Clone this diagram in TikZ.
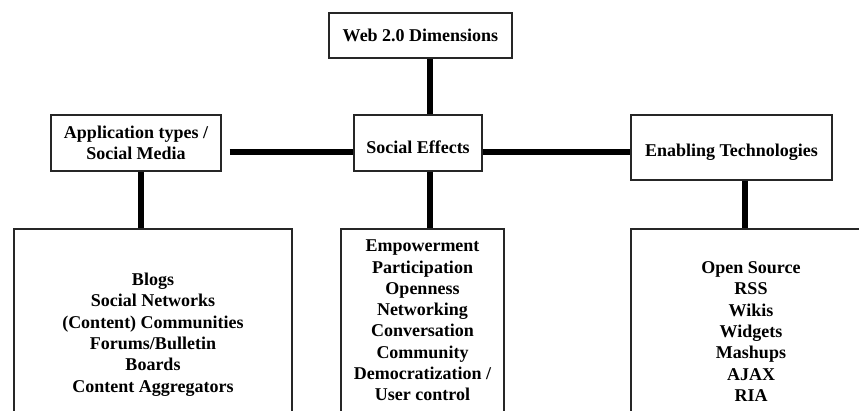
\documentclass[tikz,border=0pt]{standalone}
\usepackage{fontspec}
\setmainfont{Liberation Serif}

\tikzset{
  box/.style={draw=black!85, line width=1.4pt, fill=white, align=center,
    inner sep=0pt, font=\bfseries\fontsize{18}{21.3}\selectfont},
  lowtext/.style={text height=21pt},
  link/.style={line width=6.5pt},
}

\begin{document}
\begin{tikzpicture}[x=1pt,y=1pt,yscale=-1]
  \useasboundingbox (0,0) rectangle (859,410);
  \clip (0,0) rectangle (859,410);

  % top row
  \node[box, minimum width=183, minimum height=45] (web) at (420.5,35.5) {Web 2.0 Dimensions};

  % middle row
  \node[box, minimum width=170, minimum height=56] (app) at (136,143) {Application types /\\ Social Media};
  \node[box, lowtext, minimum width=128, minimum height=56] (social) at (418,143) {Social Effects};
  \node[box, lowtext, minimum width=201, minimum height=65] (enab) at (731.5,147.5) {Enabling Technologies};

  % bottom row (cut off by the frame)
  \node[box, minimum width=278, minimum height=211] (apps) at (153,334.5)
    {Blogs\\ Social Networks\\ (Content) Communities\\ Forums/Bulletin\\ Boards\\ Content Aggregators};
  \node[box, minimum width=163, minimum height=183] (effects) at (422.5,320.5)
    {Empowerment\\ Participation\\ Openness\\ Networking\\ Conversation\\ Community\\ Democratization /\\ User control};
  \node[box, minimum width=240, minimum height=205] (techs) at (751,331.5)
    {Open Source\\ RSS\\ Wikis\\ Widgets\\ Mashups\\ AJAX\\ RIA};

  % connectors
  \coordinate (hub) at (430,152);
  \coordinate (appdrop) at (141,0);
  \coordinate (techdrop) at (745,0);
  \draw[link] (web.south -| hub) -- (social.north -| hub);
  \draw[link] (social.south -| hub) -- (effects.north -| hub);
  \draw[link, shorten <=8] (app.east |- hub) -- (social.west |- hub);
  \draw[link] (social.east |- hub) -- (enab.west |- hub);
  \draw[link] (app.south -| appdrop) -- (apps.north -| appdrop);
  \draw[link] (enab.south -| techdrop) -- (techs.north -| techdrop);
\end{tikzpicture}
\end{document}
